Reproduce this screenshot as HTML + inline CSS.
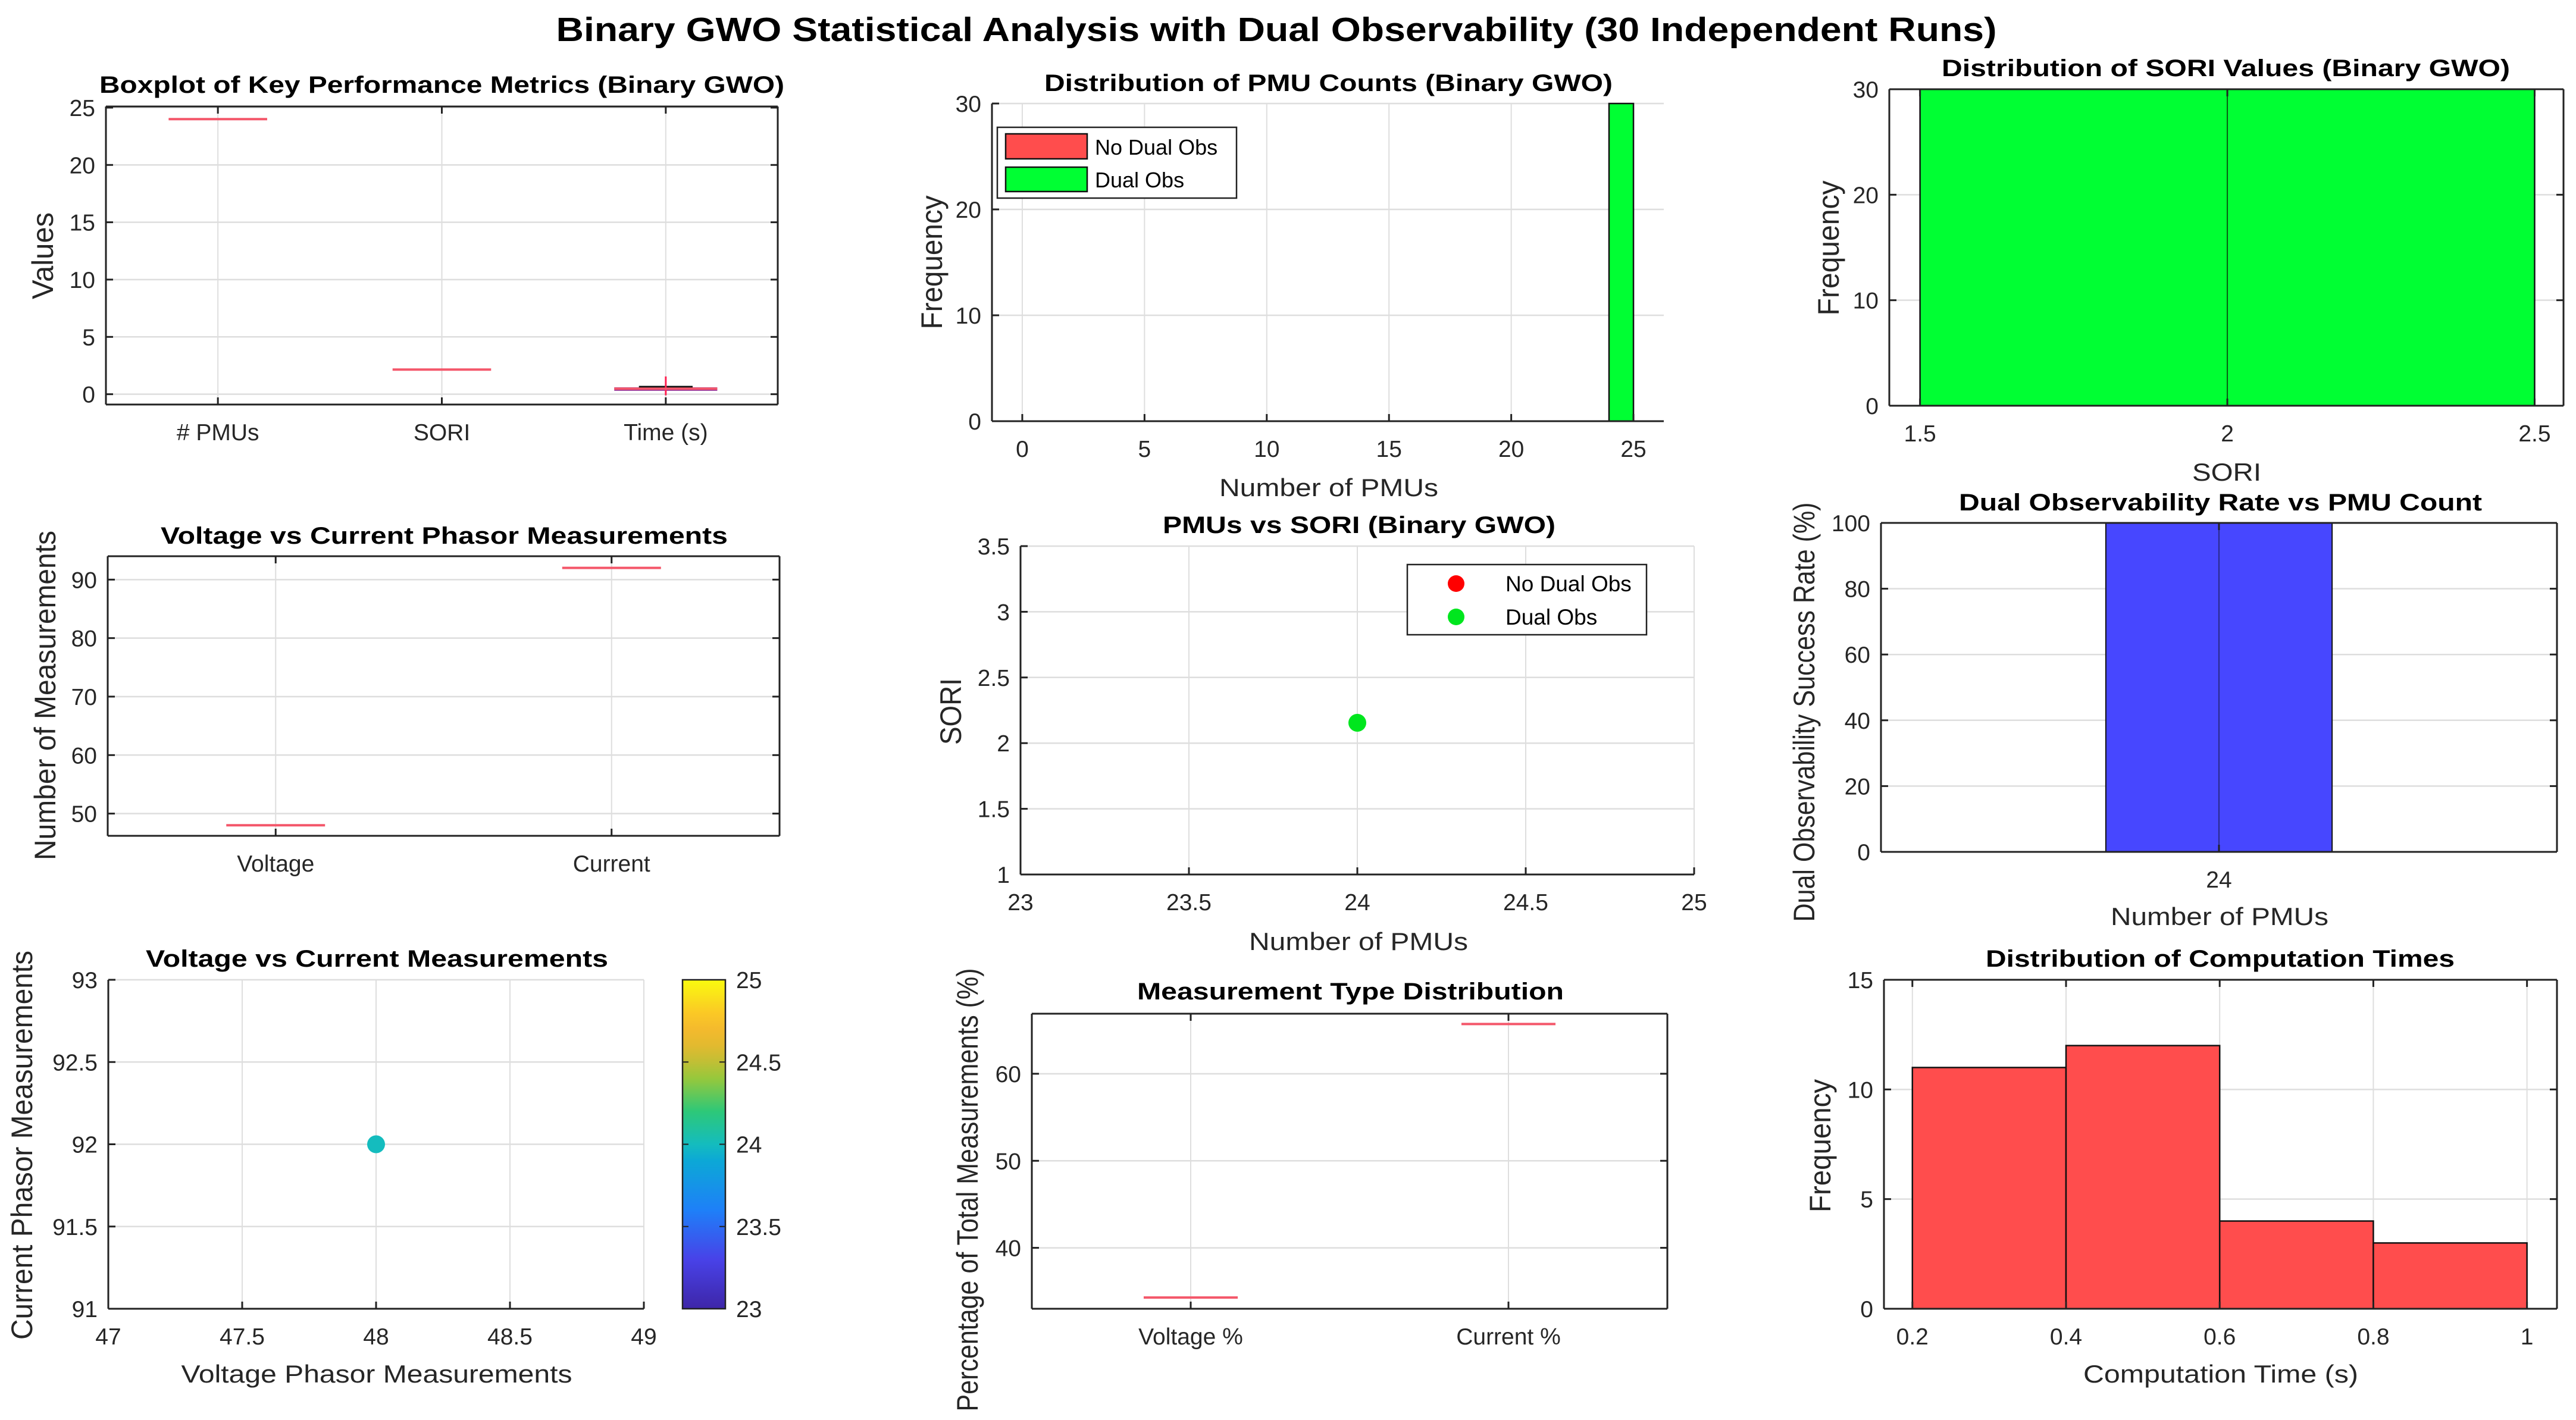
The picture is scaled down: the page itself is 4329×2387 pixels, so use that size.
<!DOCTYPE html>
<html><head><meta charset="utf-8"><style>
html,body{margin:0;padding:0;background:#fff;}
svg{display:block;font-family:"Liberation Sans",Arial,sans-serif;}
</style></head><body>
<svg id="fig" xmlns="http://www.w3.org/2000/svg" width="4329" height="2387" viewBox="0 0 4329 2387">
<rect x="0" y="0" width="4329" height="2387" fill="#fff"/>
<text x="2145" y="69" font-size="57" font-weight="bold" text-anchor="middle" textLength="2421" lengthAdjust="spacingAndGlyphs">Binary GWO Statistical Analysis with Dual Observability (30 Independent Runs)</text>
</svg>
<script>
// ---------- data ----------
const boxCategories = ['# PMUs', 'SORI', 'Time (s)'];
const boxMedians = [24, 2.15, 0.48];
const timeQ1 = 0.3, timeQ3 = 0.6, timeUpper = 0.65;
const pmuBinEdges = [24, 25];
const pmuDualCounts = [30];
const pmuNoDualCounts = [0];
const soriBinEdges = [1.5, 2.5];
const soriCounts = [30];
const vcCategories = ['Voltage', 'Current'];
const vcMedians = [48, 92];
const scatterPMU = [24];
const scatterSORI = [2.155];
const rateCategories = ['24'];
const rateValues = [100];
const vScatter = [48];
const cScatter = [92];
const colorVals = [24];
const pctCategories = ['Voltage %', 'Current %'];
const pctMedians = [34.29, 65.71];
const timeBinEdges = [0.2, 0.4, 0.6, 0.8, 1.0];
const timeCounts = [11, 12, 4, 3];

const NS = 'http://www.w3.org/2000/svg';
const fig = document.getElementById('fig');
function mk(tag, attrs, parent) {
  const e = document.createElementNS(NS, tag);
  for (const k in attrs) e.setAttribute(k, attrs[k]);
  (parent || fig).appendChild(e);
  return e;
}
function txt(s, attrs, parent) { const e = mk('text', attrs, parent); e.textContent = s; return e; }

function axes(c) {
  const g = mk('g', {});
  
  
  const sx = v => c.l + (v - c.x0) / (c.x1 - c.x0) * (c.r - c.l);
  const sy = v => c.b - (v - c.y0) / (c.y1 - c.y0) * (c.b - c.t);
  const grid = mk('g', {}, g);
  
  
  c.xt.forEach(v => { const ln = mk('line', {x1: sx(v), x2: sx(v), y1: c.t, y2: c.b, stroke: '#dedede', 'stroke-width': 2}, grid);
    
     });
  c.yt.forEach(v => { const ln = mk('line', {x1: c.l, x2: c.r, y1: sy(v), y2: sy(v), stroke: '#dedede', 'stroke-width': 2.5}, grid);
    
     });
  const data = mk('g', {}, g);
  
  
  const ax = mk('g', {}, g);
  
  
  return {g, sx, sy, data, ax, c};
}
function finish(A) {
  const {sx, sy, ax, c} = A;
  const st = {stroke: '#222', 'stroke-width': 3};
  mk('line', Object.assign({x1: c.l, x2: c.r, y1: c.b, y2: c.b}, st), ax);
  mk('line', Object.assign({x1: c.l, x2: c.l, y1: c.t, y2: c.b}, st), ax);
  if (c.box) {
    mk('line', Object.assign({x1: c.l, x2: c.r, y1: c.t, y2: c.t}, st), ax);
    mk('line', Object.assign({x1: c.r, x2: c.r, y1: c.t, y2: c.b}, st), ax);
  }
  c.xt.forEach((v, i) => {
    mk('line', {x1: sx(v), x2: sx(v), y1: c.b, y2: c.b - 12, stroke: '#222', 'stroke-width': 3}, ax);
    if (c.box) mk('line', {x1: sx(v), x2: sx(v), y1: c.t, y2: c.t + 12, stroke: '#222', 'stroke-width': 3}, ax);
    const t = txt(c.xl[i], {x: sx(v), y: c.b + 60, 'font-size': 39, fill: '#262626', 'text-anchor': 'middle'}, ax);
    
    
  });
  c.yt.forEach((v, i) => {
    mk('line', {x1: c.l, x2: c.l + 12, y1: sy(v), y2: sy(v), stroke: '#222', 'stroke-width': 3}, ax);
    if (c.box) mk('line', {x1: c.r, x2: c.r - 12, y1: sy(v), y2: sy(v), stroke: '#222', 'stroke-width': 3}, ax);
    const t = txt(c.yl[i], {x: c.l - 18, y: sy(v) + 14, 'font-size': 39, fill: '#262626', 'text-anchor': 'end'}, ax);
    
    
  });
  const ti = txt(c.title[0], {x: (c.title[1] + c.title[2]) / 2, y: c.title[3], 'font-size': 40, 'font-weight': 'bold', 'text-anchor': 'middle', textLength: c.title[2] - c.title[1], lengthAdjust: 'spacingAndGlyphs'}, ax);
  
  
  if (c.xlab) {
    const t = txt(c.xlab[0], {x: c.xlab[1], y: c.xlab[2], 'font-size': 42, fill: '#262626', 'text-anchor': 'middle', textLength: c.xlab[3], lengthAdjust: 'spacingAndGlyphs'}, ax);
    
    
  }
  if (c.ylab) {
    const [s, x, y, len] = c.ylab;
    const t = txt(s, {x: 0, y: 0, 'font-size': 50, fill: '#262626', 'text-anchor': 'middle', 'dominant-baseline': 'central', textLength: len, lengthAdjust: 'spacingAndGlyphs', transform: `translate(${x},${y}) rotate(-90)`}, ax);
    
    
  }
}
const rng = (a, b, s) => { const o = []; for (let v = a; v <= b + 1e-9; v += s) o.push(+v.toFixed(4)); return o; };

// ---------- P1 boxplot ----------
let A = axes({name: 'boxplot-metrics', l: 178, r: 1307, t: 179, b: 680, x0: 0.5, x1: 3.5, y0: -0.9, y1: 25.1, box: true,
  xt: [1, 2, 3], xl: boxCategories, yt: [0, 5, 10, 15, 20, 25], yl: ['0', '5', '10', '15', '20', '25'],
  title: ['Boxplot of Key Performance Metrics (Binary GWO)', 167, 1318, 156], ylab: ['Values', 72, 430, 146]});
{
  const tq = mk('rect', {x: A.sx(3 - 0.23), y: A.sy(timeQ3), width: A.sx(3.23) - A.sx(2.77), height: A.sy(timeQ1) - A.sy(timeQ3), fill: '#8a2a9a'}, A.data);
  
  
  const cap = mk('line', {x1: A.sx(2.88), x2: A.sx(3.12), y1: A.sy(timeUpper), y2: A.sy(timeUpper), stroke: '#111', 'stroke-width': 3}, A.data);
  
  
  const vl = mk('line', {x1: A.sx(3), x2: A.sx(3), y1: A.sy(1.55), y2: A.sy(-0.1), stroke: '#ff2050', 'stroke-width': 3}, A.data);
  
  
  boxMedians.forEach((m, i) => {
    const hw = i === 2 ? 0.23 : 0.22;
    const ln = mk('line', {x1: A.sx(i + 1 - hw), x2: A.sx(i + 1 + hw), y1: A.sy(m), y2: A.sy(m), stroke: '#f4576a', 'stroke-width': 4}, A.data);
    
    
  });
}
finish(A);

// ---------- P2 PMU histogram ----------
A = axes({name: 'pmu-distribution', l: 1667, r: 2796, t: 174, b: 708, x0: -1.24, x1: 26.24, y0: 0, y1: 30, box: false,
  xt: [0, 5, 10, 15, 20, 25], xl: ['0', '5', '10', '15', '20', '25'], yt: [0, 10, 20, 30], yl: ['0', '10', '20', '30'],
  title: ['Distribution of PMU Counts (Binary GWO)', 1755, 2710, 153], xlab: ['Number of PMUs', 2233, 834, 368], ylab: ['Frequency', 1566, 441, 225]});
pmuDualCounts.forEach((v, i) => {
  const r = mk('rect', {x: A.sx(pmuBinEdges[i]), y: A.sy(v), width: A.sx(pmuBinEdges[i + 1]) - A.sx(pmuBinEdges[i]), height: A.sy(0) - A.sy(v), fill: '#00ff33', stroke: '#111', 'stroke-width': 2.5}, A.data);
  
  
});
pmuNoDualCounts.forEach((v, i) => {
  const r = mk('rect', {x: A.sx(0), y: A.sy(v) - 1, width: A.sx(1) - A.sx(0), height: 2, fill: '#333'}, A.data);
  
  
});
finish(A);
{
  const lg = mk('g', {});
  
  
  mk('rect', {x: 1676, y: 214, width: 402, height: 119, fill: '#fff', stroke: '#222', 'stroke-width': 2.5}, lg);
  mk('rect', {x: 1690, y: 225, width: 137, height: 42, fill: '#ff4d4d', stroke: '#111', 'stroke-width': 2.5}, lg);
  mk('rect', {x: 1690, y: 281, width: 137, height: 41, fill: '#00ff33', stroke: '#111', 'stroke-width': 2.5}, lg);
  const a = txt('No Dual Obs', {x: 1840, y: 260, 'font-size': 36}, lg);
  
  
  const b = txt('Dual Obs', {x: 1840, y: 315, 'font-size': 36}, lg);
  
  
}

// ---------- P3 SORI histogram ----------
A = axes({name: 'sori-distribution', l: 3175, r: 4308, t: 150, b: 682, x0: 1.45, x1: 2.547, y0: 0, y1: 30, box: true,
  xt: [1.5, 2, 2.5], xl: ['1.5', '2', '2.5'], yt: [0, 10, 20, 30], yl: ['0', '10', '20', '30'],
  title: ['Distribution of SORI Values (Binary GWO)', 3263, 4218, 128], xlab: ['SORI', 3742, 808, 116], ylab: ['Frequency', 3073, 417, 227]});
soriCounts.forEach((v, i) => {
  const r = mk('rect', {x: A.sx(soriBinEdges[i]), y: A.sy(v), width: A.sx(soriBinEdges[i + 1]) - A.sx(soriBinEdges[i]), height: A.sy(0) - A.sy(v), fill: '#00ff33', stroke: '#111', 'stroke-width': 2.5}, A.data);
  
  
  mk('line', {x1: A.sx(2), x2: A.sx(2), y1: A.c.t, y2: A.c.b, stroke: '#0a5a14', 'stroke-width': 2}, A.data);
});
finish(A);

// ---------- P4 V vs C boxplot ----------
A = axes({name: 'voltage-current-boxplot', l: 181, r: 1310, t: 935, b: 1405, x0: 0.5, x1: 2.5, y0: 46.2, y1: 94, box: true,
  xt: [1, 2], xl: vcCategories, yt: [50, 60, 70, 80, 90], yl: ['50', '60', '70', '80', '90'],
  title: ['Voltage vs Current Phasor Measurements', 270, 1223, 914], ylab: ['Number of Measurements', 76, 1169, 554]});
vcMedians.forEach((m, i) => {
  const ln = mk('line', {x1: A.sx(i + 1 - 0.147), x2: A.sx(i + 1 + 0.147), y1: A.sy(m), y2: A.sy(m), stroke: '#f4576a', 'stroke-width': 4}, A.data);
  
  
});
finish(A);

// ---------- P5 scatter ----------
A = axes({name: 'pmus-vs-sori', l: 1715, r: 2847, t: 918, b: 1470, x0: 23, x1: 25, y0: 1, y1: 3.5, box: false,
  xt: rng(23, 25, 0.5), xl: ['23', '23.5', '24', '24.5', '25'], yt: rng(1, 3.5, 0.5), yl: ['1', '1.5', '2', '2.5', '3', '3.5'],
  title: ['PMUs vs SORI (Binary GWO)', 1954, 2614, 896], xlab: ['Number of PMUs', 2283, 1597, 368], ylab: ['SORI', 1598, 1196, 112]});
scatterPMU.forEach((v, i) => {
  const p = mk('circle', {cx: A.sx(v), cy: A.sy(scatterSORI[i]), r: 15, fill: '#00e61e'}, A.data);
  
  
});
finish(A);
{
  const lg = mk('g', {});
  
  
  mk('rect', {x: 2365, y: 949, width: 402, height: 118, fill: '#fff', stroke: '#222', 'stroke-width': 2.5}, lg);
  mk('circle', {cx: 2447, cy: 981, r: 14, fill: '#ff0000'}, lg);
  mk('circle', {cx: 2447, cy: 1037, r: 14, fill: '#00e61e'}, lg);
  const a = txt('No Dual Obs', {x: 2530, y: 994, 'font-size': 37}, lg);
  
  
  const b = txt('Dual Obs', {x: 2530, y: 1050, 'font-size': 37}, lg);
  
  
}

// ---------- P6 rate bar ----------
A = axes({name: 'dual-obs-rate', l: 3161, r: 4297, t: 879, b: 1432, x0: 22.805, x1: 25.195, y0: 0, y1: 100, box: true,
  xt: [24], xl: rateCategories, yt: [0, 20, 40, 60, 80, 100], yl: ['0', '20', '40', '60', '80', '100'],
  title: ['Dual Observability Rate vs PMU Count', 3292, 4171, 858], xlab: ['Number of PMUs', 3730, 1555, 366], ylab: ['Dual Observability Success Rate (%)', 3032, 1197, 705]});
rateValues.forEach((v, i) => {
  const x = +rateCategories[i];
  const r = mk('rect', {x: A.sx(x - 0.4), y: A.sy(v), width: A.sx(x + 0.4) - A.sx(x - 0.4), height: A.sy(0) - A.sy(v), fill: '#4747ff', stroke: '#111', 'stroke-width': 2}, A.data);
  
  
  mk('line', {x1: A.sx(x), x2: A.sx(x), y1: A.c.t, y2: A.c.b, stroke: '#2a2a8a', 'stroke-width': 2}, A.data);
});
finish(A);

// ---------- P7 scatter with colorbar ----------
A = axes({name: 'voltage-vs-current-scatter', l: 182, r: 1082, t: 1647, b: 2200, x0: 47, x1: 49, y0: 91, y1: 93, box: false,
  xt: rng(47, 49, 0.5), xl: ['47', '47.5', '48', '48.5', '49'], yt: rng(91, 93, 0.5), yl: ['91', '91.5', '92', '92.5', '93'],
  title: ['Voltage vs Current Measurements', 245, 1022, 1625], xlab: ['Voltage Phasor Measurements', 633, 2324, 657], ylab: ['Current Phasor Measurements', 37, 1925, 654]});
function parula(t) {
  const st = [[0, [62, 38, 168]], [0.15, [72, 66, 232]], [0.3, [30, 128, 248]], [0.45, [12, 168, 214]], [0.5, [20, 188, 190]], [0.6, [45, 200, 120]], [0.7, [150, 200, 60]], [0.78, [218, 186, 48]], [0.87, [252, 186, 44]], [1, [249, 251, 14]]];
  for (let i = 1; i < st.length; i++) if (t <= st[i][0]) {
    const f = (t - st[i - 1][0]) / (st[i][0] - st[i - 1][0]);
    const c = st[i - 1][1].map((a, k) => Math.round(a + (st[i][1][k] - a) * f));
    return `rgb(${c})`;
  }
  return 'rgb(249,251,14)';
}
vScatter.forEach((v, i) => {
  const p = mk('circle', {cx: A.sx(v), cy: A.sy(cScatter[i]), r: 15, fill: parula((colorVals[i] - 23) / 2)}, A.data);
  
  
});
finish(A);
{
  const cb = mk('g', {});
  
  
  const defs = mk('defs', {}, cb);
  const lgd = mk('linearGradient', {id: 'par', x1: 0, y1: 1, x2: 0, y2: 0}, defs);
  for (let k = 0; k <= 20; k++) mk('stop', {offset: k / 20, 'stop-color': parula(k / 20)}, lgd);
  mk('rect', {x: 1147, y: 1647, width: 72, height: 553, fill: 'url(#par)', stroke: '#222', 'stroke-width': 2.5}, cb);
  ['23', '23.5', '24', '24.5', '25'].forEach((s, k) => {
    const y = 2200 - k * 553 / 4;
    mk('line', {x1: 1147, x2: 1157, y1: y, y2: y, stroke: '#222', 'stroke-width': 2}, cb);
    mk('line', {x1: 1209, x2: 1219, y1: y, y2: y, stroke: '#222', 'stroke-width': 2}, cb);
    const t = txt(s, {x: 1237, y: y + 14, 'font-size': 39, fill: '#262626'}, cb);
    
    
  });
}

// ---------- P8 percentage boxplot ----------
A = axes({name: 'measurement-type-distribution', l: 1734, r: 2802, t: 1704, b: 2200, x0: 0.5, x1: 2.5, y0: 33, y1: 66.9, box: true,
  xt: [1, 2], xl: pctCategories, yt: [40, 50, 60], yl: ['40', '50', '60'],
  title: ['Measurement Type Distribution', 1911, 2628, 1680], ylab: ['Percentage of Total Measurements (%)', 1626, 2000, 745]});
pctMedians.forEach((m, i) => {
  const ln = mk('line', {x1: A.sx(i + 1 - 0.148), x2: A.sx(i + 1 + 0.148), y1: A.sy(m), y2: A.sy(m), stroke: '#f4576a', 'stroke-width': 4}, A.data);
  
  
});
finish(A);

// ---------- P9 time histogram ----------
A = axes({name: 'computation-times', l: 3166, r: 4297, t: 1647, b: 2200, x0: 0.163, x1: 1.039, y0: 0, y1: 15, box: true,
  xt: [0.2, 0.4, 0.6, 0.8, 1], xl: ['0.2', '0.4', '0.6', '0.8', '1'], yt: [0, 5, 10, 15], yl: ['0', '5', '10', '15'],
  title: ['Distribution of Computation Times', 3337, 4125, 1625], xlab: ['Computation Time (s)', 3732, 2324, 462], ylab: ['Frequency', 3059, 1926, 224]});
timeCounts.forEach((v, i) => {
  const r = mk('rect', {x: A.sx(timeBinEdges[i]), y: A.sy(v), width: A.sx(timeBinEdges[i + 1]) - A.sx(timeBinEdges[i]), height: A.sy(0) - A.sy(v), fill: '#ff4d4d', stroke: '#111', 'stroke-width': 2.5}, A.data);
  
  
});
finish(A);
</script>
</body></html>
